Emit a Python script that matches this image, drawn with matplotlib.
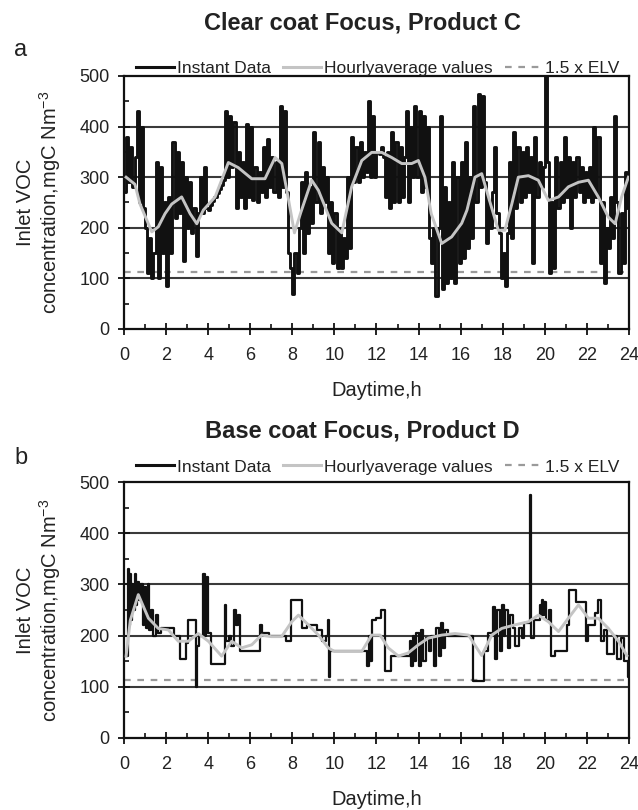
import numpy as np
import matplotlib
matplotlib.use("Agg")
import matplotlib.pyplot as plt
from matplotlib.lines import Line2D

plt.rcParams['font.family'] = ['Liberation Sans', 'DejaVu Sans']
plt.rcParams['mathtext.fontset'] = 'custom'
plt.rcParams['mathtext.rm'] = 'Liberation Sans'
plt.rcParams['mathtext.it'] = 'Liberation Sans:italic'

# ---------------- data ----------------
titles = ["Clear coat Focus, Product C", "Base coat Focus, Product D"]
panel_labels = ["a", "b"]
legend_labels = ["Instant Data", "Hourlyaverage values", "1.5 x ELV"]
x_label = "Daytime,h"
y_label = "Inlet VOC\nconcentration,mgC Nm$^{-3}$"
elv_limit = 112.5
x_ticks = list(range(0, 25, 2))
y_ticks = [0, 100, 200, 300, 400, 500]

# Panel a: instant data sampled every 0.1 h (0.0 ... 24.0)
a_step = 0.1
a_instant = [
    270, 380, 290, 360, 280, 340, 430, 250, 400, 240,   # 0
    200, 110, 180, 100, 150, 330, 100, 320, 150, 250,   # 1
    85, 260, 150, 370, 220, 350, 230, 330, 135, 300,    # 2
    200, 290, 190, 240, 145, 230, 300, 230, 320, 240,   # 3
    235, 245, 252, 260, 268, 276, 285, 295, 430, 300,   # 4
    420, 320, 410, 240, 350, 260, 330, 240, 405, 260,   # 5
    400, 255, 320, 250, 310, 270, 360, 260, 375, 280,   # 6
    340, 270, 330, 260, 440, 280, 430, 270, 150, 120,   # 7
    70, 150, 110, 200, 290, 150, 310, 190, 280, 210,    # 8
    390, 250, 370, 230, 320, 250, 300, 150, 250, 130,   # 9
    230, 120, 200, 120, 180, 140, 300, 160, 380, 290,   # 10
    360, 290, 370, 300, 350, 310, 450, 300, 420, 300,   # 11
    350, 345, 360, 340, 260, 350, 240, 390, 250, 370,   # 12
    250, 360, 260, 340, 430, 250, 400, 300, 440, 300,   # 13
    430, 270, 420, 280, 400, 180, 130, 200, 65, 200,    # 14
    420, 80, 280, 90, 250, 100, 330, 90, 300, 130,      # 15
    330, 140, 370, 160, 300, 180, 440, 250, 465, 280,   # 16
    460, 290, 170, 250, 200, 270, 360, 230, 190, 100,   # 17
    150, 85, 190, 330, 180, 390, 240, 360, 250, 350,    # 18
    260, 360, 270, 340, 130, 380, 260, 330, 280, 320,   # 19
    500, 330, 110, 250, 120, 340, 240, 330, 250, 380,   # 20
    260, 340, 200, 330, 260, 340, 270, 320, 250, 310,   # 21
    260, 320, 250, 400, 260, 380, 130, 250, 90, 200,    # 22
    160, 260, 180, 420, 250, 110, 230, 130, 310, 240,   # 23
    310,                                                # 24
]
a_avg_t = [0.1, 0.52, 0.76, 1.32, 1.63, 1.95, 2.27, 2.74, 3.14, 3.46, 3.77,
           4.33, 4.96, 5.43, 6.07, 6.7, 7.18, 7.5, 7.8, 8.1, 8.4, 8.92, 9.24,
           9.87, 10.35, 10.82, 11.3, 11.77, 12.25, 12.72, 13.2, 13.67, 13.99,
           14.3, 14.6, 15.1, 15.57, 16.05, 16.3, 16.68, 17.0, 17.32, 17.79,
           18.1, 18.43, 18.74, 19.22, 19.69, 20.17, 20.65, 21.12, 21.6, 22.07,
           22.54, 23.02, 23.34, 23.65, 23.97]
a_avg_v = [300, 286, 247, 192, 202, 228, 247, 261, 228, 208, 235,
           261, 329, 319, 297, 297, 339, 327, 260, 190, 230, 294, 274,
           209, 190, 281, 333, 349, 349, 339, 327, 327, 333,
           300, 228, 169, 182, 209, 235, 300, 307, 261, 195,
           195, 247, 300, 303, 294, 254, 261, 281, 290, 294,
           261, 221, 208, 261, 300]

# Panel b: instant data as step changes (time h, value)
b_inst_t = [0.05, 0.2, 0.25, 0.3, 0.35, 0.4, 0.45, 0.5, 0.55, 0.6, 0.7, 0.8,
            0.9, 0.95, 1.05, 1.15, 1.2, 1.3, 1.4, 1.5, 1.6, 1.75, 2.4, 2.65,
            2.95, 3.05, 3.4, 3.45, 3.55, 3.75, 3.85, 3.9, 3.95, 4.0, 4.15, 4.8,
            4.85, 5.0, 5.1, 5.25, 5.3, 5.4, 5.5, 6.45, 6.55, 6.9, 7.7, 7.95,
            8.45, 8.7, 9.15, 9.4, 9.6, 9.7, 9.75, 9.8, 11.55, 11.65, 11.7,
            11.8, 12.0, 12.2, 12.4, 12.7, 13.6, 13.65, 13.75, 13.8, 13.9, 14.0,
            14.1, 14.2, 14.35, 14.5, 14.6, 14.75, 14.85, 14.95, 15.05, 15.15,
            15.25, 15.4, 16.6, 17.1, 17.3, 17.55, 17.65, 17.75, 17.85, 17.95,
            18.05, 18.1, 18.25, 18.35, 18.5, 18.6, 18.75, 18.9, 19.0, 19.3,
            19.35, 19.5, 19.75, 19.8, 19.85, 19.9, 19.95, 20.05, 20.2, 20.3,
            20.5, 21.05, 21.15, 21.5, 21.95, 22.05, 22.4, 22.55, 22.65, 22.8,
            22.95, 23.3, 23.45, 23.6, 23.75, 23.95, 24.0]
b_inst_v = [160, 330, 220, 320, 230, 300, 250, 320, 260, 305, 270, 300,
            220, 295, 215, 300, 210, 250, 200, 240, 205, 215, 200, 155,
            185, 230, 100, 180, 200, 320, 200, 310, 315, 205, 145, 260,
            190, 200, 180, 250, 220, 240, 170, 220, 205, 200, 190, 270,
            215, 220, 210, 190, 200, 230, 120, 170, 140, 200, 150,
            230, 235, 250, 130, 160, 190, 140, 200, 150, 205, 140,
            210, 150, 195, 170, 200, 140, 215, 160, 225, 175,
            210, 200, 112, 170, 205, 255, 155, 250, 170, 260,
            200, 250, 175, 240, 215, 180, 215, 195, 225, 475,
            195, 230, 260, 240, 270, 240, 265, 230, 250, 160,
            170, 220, 290, 265, 190, 220, 245, 270, 190, 210,
            165, 200, 155, 195, 150, 120, 120]
b_avg_t = [0.1, 0.3, 0.68, 1.16, 1.63, 2.11, 2.58, 3.06, 3.53, 4.01, 4.64,
           5.12, 5.59, 6.07, 6.54, 7.0, 7.49, 7.97, 8.29, 8.76, 9.24, 9.71,
           10.0, 11.3, 11.77, 12.17, 12.56, 13.04, 13.5, 13.99, 14.46, 15.1,
           15.73, 16.37, 17.0, 17.48, 17.95, 18.58, 19.22, 19.69, 20.17,
           20.65, 21.12, 21.6, 22.07, 22.54, 23.02, 23.5, 23.9]
b_avg_v = [160, 230, 280, 234, 214, 211, 189, 189, 204, 189, 160,
           189, 176, 182, 201, 198, 198, 227, 240, 221, 201, 176,
           169, 169, 201, 201, 176, 160, 166, 182, 195, 201,
           204, 201, 161, 201, 214, 221, 227, 240, 227,
           208, 234, 260, 234, 234, 214, 189, 161]

# ---------------- figure ----------------
W, H = 638, 810
fig = plt.figure(figsize=(W / 100, H / 100), dpi=100)

def fx(px):
    return px / W

def fy(py):
    return 1 - py / H

axes_boxes = [
    [fx(124), fy(329), fx(629) - fx(124), fy(76) - fy(329)],
    [fx(124), fy(738), fx(629) - fx(124), fy(482) - fy(738)],
]
title_y = [23, 431]
letter_y = [50, 458]
legend_y = [68, 467]
inst_lw = [2.1, 1.6]

a_time = np.arange(len(a_instant)) * a_step
series = [
    (a_time, a_instant, a_avg_t, a_avg_v),
    (b_inst_t, b_inst_v, b_avg_t, b_avg_v),
]

inst_color = "#111111"
avg_color = "#c4c4c4"
elv_color = "#9a9a9a"
grid_color = "#3a3a3a"
text_color = "#222222"

for i, box in enumerate(axes_boxes):
    ax = fig.add_axes(box)
    t, v, at, av = series[i]
    ax.plot(t, v, drawstyle="steps-post", color=inst_color, lw=inst_lw[i],
            zorder=3)
    ax.plot(at, av, color=avg_color, lw=2.1, zorder=4)
    ax.axhline(elv_limit, color=elv_color, lw=1.6, dashes=(3, 3), zorder=2)

    ax.set_xlim(0, 24)
    ax.set_ylim(0, 500)
    ax.set_xticks(x_ticks)
    ax.set_yticks(y_ticks)
    ax.set_xticks(np.arange(1, 24, 2), minor=True)
    ax.set_yticks(np.arange(50, 500, 100), minor=True)
    for yv in y_ticks[1:-1]:
        ax.axhline(yv, color=grid_color, lw=1.5, zorder=1)

    ax.tick_params(which="major", direction="inout", length=8.5, width=1.3,
                   labelsize=13, labelcolor=text_color, color="#111111")
    ax.tick_params(axis="x", which="major", pad=9)
    ax.tick_params(axis="y", which="major", pad=6)
    ax.tick_params(which="minor", direction="in", length=3.5, width=1.2,
                   color="#111111")
    for s in ax.spines.values():
        s.set_linewidth(1.6)
        s.set_color("#111111")

    ax.set_xlabel(x_label, fontsize=14.5, color=text_color)
    ax.xaxis.set_label_coords(0.5, -0.205)
    ax.set_ylabel(y_label, fontsize=14.5, color=text_color, linespacing=1.1)
    ax.yaxis.set_label_coords(-0.121, 0.5)

    fig.text(fx(362), fy(title_y[i]), titles[i], fontsize=17, fontweight="bold",
             ha="center", va="center", color=text_color)
    fig.text(fx(14), fy(letter_y[i]), panel_labels[i], fontsize=17,
             ha="left", va="center", color=text_color)

    handles = [
        Line2D([], [], color=inst_color, lw=2.2),
        Line2D([], [], color=avg_color, lw=2.2),
        Line2D([], [], color=elv_color, lw=1.6, dashes=(3, 3)),
    ]
    ax.legend(handles, legend_labels, loc="center left",
              bbox_to_anchor=(fx(136), fy(legend_y[i])),
              bbox_transform=fig.transFigure, ncol=3, frameon=False,
              fontsize=12.5, borderpad=0, borderaxespad=0,
              handlelength=2.2, handletextpad=0.15, columnspacing=0.7,
              labelcolor=text_color)

fig.savefig("out.png", dpi=100)
